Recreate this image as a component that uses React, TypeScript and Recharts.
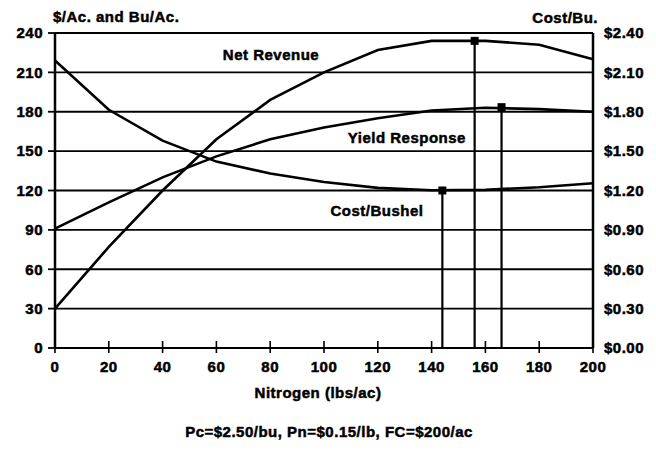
import React from 'react';
import { LineChart, Line, XAxis, YAxis, CartesianGrid, ReferenceLine, ReferenceDot } from 'recharts';

const nitrogen = [0, 20, 40, 60, 80, 100, 120, 140, 160, 180, 200];
const netRevenue = [30, 77, 120, 159, 189, 210, 227, 234, 234, 231, 220];
const yieldResponse = [91, 111, 130, 146, 159, 168, 175, 181, 183, 182, 180];
const costPerBushel = [2.19, 1.815, 1.58, 1.42, 1.33, 1.265, 1.22, 1.202, 1.205, 1.225, 1.255];

const xTicks = [0, 20, 40, 60, 80, 100, 120, 140, 160, 180, 200];
const leftTicks = [0, 30, 60, 90, 120, 150, 180, 210, 240];
const rightTicks = [0, 0.3, 0.6, 0.9, 1.2, 1.5, 1.8, 2.1, 2.4];

// optimum points
const optNet = { x: 156, y: 234 };
const optYield = { x: 166, y: 183.5 };
const optCost = { x: 144, y: 1.2 };

// annotation anchor points (data coords)
const notes = [
  { text: 'Net Revenue', x: 80.3, y: 223.6 },
  { text: 'Yield Response', x: 130.8, y: 160.3 },
  { text: 'Cost/Bushel', x: 119.7, y: 105 },
];

const data = nitrogen.map((n, i) => ({
  n,
  net: netRevenue[i],
  yld: yieldResponse[i],
  cost: costPerBushel[i],
}));

const FONT = '"Liberation Sans", Arial, Helvetica, sans-serif';
const txt = {
  fontFamily: FONT,
  fontSize: 15,
  fontWeight: 700,
  letterSpacing: 0.5,
  fill: '#000',
  stroke: '#000',
  strokeWidth: 0.5,
} as const;

const XTick = (props: any) => {
  const { x, y, payload } = props;
  return (
    <g>
      <line x1={x} x2={x} y1={y - 7} y2={y + 5} stroke="#000" strokeWidth={1.6} />
      <text x={x} y={y + 24} textAnchor="middle" style={txt as any}>
        {payload.value}
      </text>
    </g>
  );
};

const Square = (props: any) => {
  const { cx, cy } = props;
  if (cx == null || cy == null) return null;
  return <rect x={cx - 4} y={cy - 4} width={8} height={8} fill="#000" />;
};

const NoteLabel = (text: string) => (props: any) => {
  const vb = props.viewBox || {};
  const cx = vb.x + (vb.width || 0) / 2;
  const cy = vb.y + (vb.height || 0) / 2;
  return (
    <text x={cx} y={cy + 5.4} textAnchor="middle" style={txt as any}>
      {text}
    </text>
  );
};

export default function App() {
  return (
    <div style={{ position: 'absolute', left: 0, top: 0, width: 656, height: 454, background: '#fff', fontFamily: FONT }}>
      <LineChart width={656} height={454} data={data} margin={{ top: 33, right: 8, bottom: 76, left: 10 }}>
        <CartesianGrid yAxisId="left" horizontal vertical={false} stroke="#000" strokeWidth={1.8} strokeOpacity={1} />
        <XAxis
          dataKey="n"
          type="number"
          domain={[0, 200]}
          ticks={xTicks}
          interval={0}
          tick={<XTick />}
          tickLine={false}
          tickSize={0}
          tickMargin={0}
          axisLine={{ stroke: '#000', strokeWidth: 2.2 }}
          height={30}
        />
        <YAxis
          yAxisId="left"
          domain={[0, 240]}
          ticks={leftTicks}
          interval={0}
          width={45}
          tickSize={7}
          tickMargin={5}
          tickLine={{ stroke: '#000', strokeWidth: 1.8 }}
          axisLine={{ stroke: '#000', strokeWidth: 2.5 }}
          tick={txt as any}
        />
        <YAxis
          yAxisId="right"
          orientation="right"
          domain={[0, 2.4]}
          ticks={rightTicks}
          interval={0}
          width={55}
          tickSize={0}
          tickMargin={11}
          tickLine={false}
          axisLine={{ stroke: '#000', strokeWidth: 2.5 }}
          tick={txt as any}
          tickFormatter={(v: number) => '$' + v.toFixed(2)}
        />
        <Line yAxisId="left" type="linear" dataKey="net" stroke="#000" strokeWidth={2.6} dot={false} isAnimationActive={false} />
        <Line yAxisId="left" type="linear" dataKey="yld" stroke="#000" strokeWidth={2.6} dot={false} isAnimationActive={false} />
        <Line yAxisId="right" type="linear" dataKey="cost" stroke="#000" strokeWidth={2.6} dot={false} isAnimationActive={false} />

        <ReferenceLine yAxisId="left" segment={[{ x: optNet.x, y: 0 }, { x: optNet.x, y: optNet.y }]} stroke="#000" strokeWidth={2.2} />
        <ReferenceLine yAxisId="left" segment={[{ x: optYield.x, y: 0 }, { x: optYield.x, y: optYield.y }]} stroke="#000" strokeWidth={2.2} />
        <ReferenceLine yAxisId="right" segment={[{ x: optCost.x, y: 0 }, { x: optCost.x, y: optCost.y }]} stroke="#000" strokeWidth={2.2} />

        <ReferenceDot yAxisId="left" x={optNet.x} y={optNet.y} shape={<Square />} />
        <ReferenceDot yAxisId="left" x={optYield.x} y={optYield.y} shape={<Square />} />
        <ReferenceDot yAxisId="right" x={optCost.x} y={optCost.y} shape={<Square />} />

        {notes.map((nt) => (
          <ReferenceDot key={nt.text} yAxisId="left" x={nt.x} y={nt.y} r={0} fill="none" stroke="none" label={NoteLabel(nt.text)} />
        ))}
      </LineChart>
      <svg width={656} height={454} style={{ position: 'absolute', left: 0, top: 0, pointerEvents: 'none' }}>
        <text x={53} y={22.4} style={txt as any}>$/Ac. and Bu/Ac.</text>
        <text x={598} y={22.6} textAnchor="end" style={txt as any}>Cost/Bu.</text>
        <text x={318} y={398} textAnchor="middle" style={txt as any}>Nitrogen (lbs/ac)</text>
        <text x={329} y={437} textAnchor="middle" style={txt as any}>Pc=$2.50/bu, Pn=$0.15/lb, FC=$200/ac</text>
      </svg>
    </div>
  );
}
